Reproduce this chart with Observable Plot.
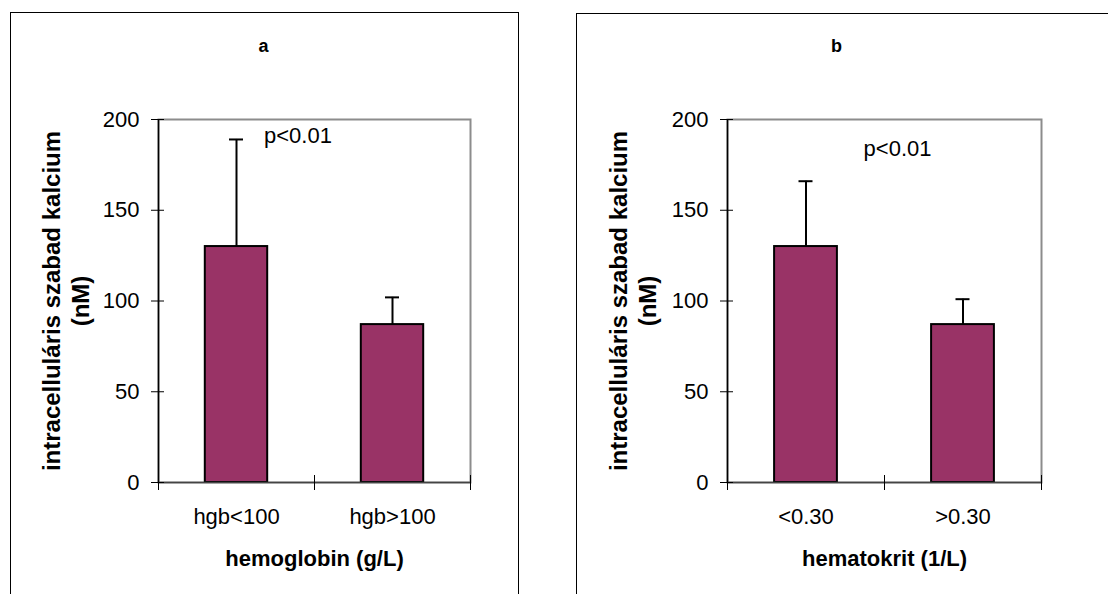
<!DOCTYPE html>
<html>
<head>
<meta charset="utf-8">
<script src="https://cdn.jsdelivr.net/npm/d3@7"></script>
<script src="https://cdn.jsdelivr.net/npm/@observablehq/plot@0.6"></script>
<style>
  body { margin: 0; background: #fff; overflow: hidden; width: 1108px; height: 594px; position: relative; }
  .panel { position: absolute; border: 1px solid #000; box-sizing: border-box; background: #fff; }
  .panel svg { position: absolute; left: 0; top: 0; }
</style>
</head>
<body>
<div id="panel-a" class="panel" style="left:10px; top:12px; width:509px; height:620px;"></div>
<div id="panel-b" class="panel" style="left:576px; top:13px; width:560px; height:620px;"></div>
<script>
// Intracellular free calcium (nM), mean + SD, by haemoglobin and haematocrit group
const yTicks = [0, 50, 100, 150, 200];
const yTitle = "intracelluláris szabad kalcium\n(nM)";

const hgbGroups = ["hgb<100", "hgb>100"];
const hgbMeans = [130, 87];
const hgbErrors = [59, 15];

const hctGroups = ["<0.30", ">0.30"];
const hctMeans = [130, 87];
const hctErrors = [36, 14];

const pLabel = "p<0.01";

const FONT = "'Liberation Sans', Arial, Helvetica, sans-serif";
const BAR_FILL = "#993366";

function panel({title, groups, means, errors, xTitle, p, size, margins, titleOffset, yTitleDx}) {
  const rows = groups.map((g, i) => ({i, group: g, mean: means[i], err: errors[i]}));
  return Plot.plot({
    width: size[0],
    height: size[1],
    marginLeft: margins[0],
    marginRight: margins[1],
    marginTop: margins[2],
    marginBottom: margins[3],
    style: {fontFamily: FONT, background: "transparent", color: "#000"},
    x: {type: "linear", domain: [0, groups.length], axis: null},
    y: {domain: [0, 200], axis: null},
    marks: [
      // plot area outline (top and right edges stay grey)
      Plot.frame({stroke: "#8c8c8c", strokeWidth: 2}),
      // bars
      Plot.rect(rows, {
        x1: d => d.i + 0.3, x2: d => d.i + 0.7,
        y1: 0, y2: "mean",
        fill: BAR_FILL, stroke: "#000", strokeWidth: 2
      }),
      // upper error whiskers with caps
      Plot.ruleX(rows, {x: d => d.i + 0.5, y1: "mean", y2: d => d.mean + d.err, stroke: "#000", strokeWidth: 2}),
      Plot.ruleY(rows, {
        y: d => d.mean + d.err, x1: d => d.i + 0.5, x2: d => d.i + 0.5,
        insetLeft: -7, insetRight: -7, stroke: "#000", strokeWidth: 2
      }),
      // axes lines
      Plot.ruleX([0], {y1: 0, y2: 200, stroke: "#000", strokeWidth: 1.5}),
      Plot.ruleY([0], {x1: 0, x2: groups.length, stroke: "#444", strokeWidth: 1.5}),
      // crossing tick marks
      Plot.ruleY(yTicks, {y: d => d, x1: 0, x2: 0, insetLeft: -7, insetRight: -6, stroke: "#000", strokeWidth: 1}),
      Plot.ruleX(d3.range(groups.length + 1), {x: d => d, y1: 0, y2: 0, insetTop: -7, insetBottom: -8, stroke: "#000", strokeWidth: 1}),
      // tick labels
      Plot.text(yTicks, {y: d => d, text: d => String(d), frameAnchor: "left", dx: -19, textAnchor: "end", fontSize: 22, fill: "#000"}),
      Plot.text(rows, {x: d => d.i + 0.5, text: "group", frameAnchor: "bottom", dy: 41, fontSize: 22, fill: "#000"}),
      // axis titles
      Plot.text([xTitle], {frameAnchor: "bottom", dy: 83, fontSize: 22, fontWeight: "bold", fill: "#000"}),
      Plot.text([yTitle], {
        frameAnchor: "left", dx: yTitleDx, rotate: -90,
        textAnchor: "middle", lineAnchor: "middle",
        fontSize: 24, fontWeight: "bold", lineHeight: 1.2, fill: "#000"
      }),
      // panel letter
      Plot.text([title], {frameAnchor: "top", dx: titleOffset[0], dy: titleOffset[1], fontSize: 18, fontWeight: "bold", fill: "#000"}),
      // significance note
      Plot.text([p], {x: "x", y: "y", text: "label", fontSize: 22, fill: "#000"})
    ]
  });
}

document.getElementById("panel-a").append(panel({
  title: "a",
  groups: hgbGroups, means: hgbMeans, errors: hgbErrors,
  xTitle: "hemoglobin (g/L)",
  p: {x: 0.894, y: 191, label: pLabel},
  size: [507, 581],
  margins: [147, 48, 106, 112],
  titleOffset: [-51, -80],
  yTitleDx: -93.5
}));

document.getElementById("panel-b").append(panel({
  title: "b",
  groups: hctGroups, means: hctMeans, errors: hctErrors,
  xTitle: "hematokrit (1/L)",
  p: {x: 1.083, y: 184, label: pLabel},
  size: [531, 580],
  margins: [150, 67, 105, 112],
  titleOffset: [-48, -80],
  yTitleDx: -95.5
}));
</script>
</body>
</html>
